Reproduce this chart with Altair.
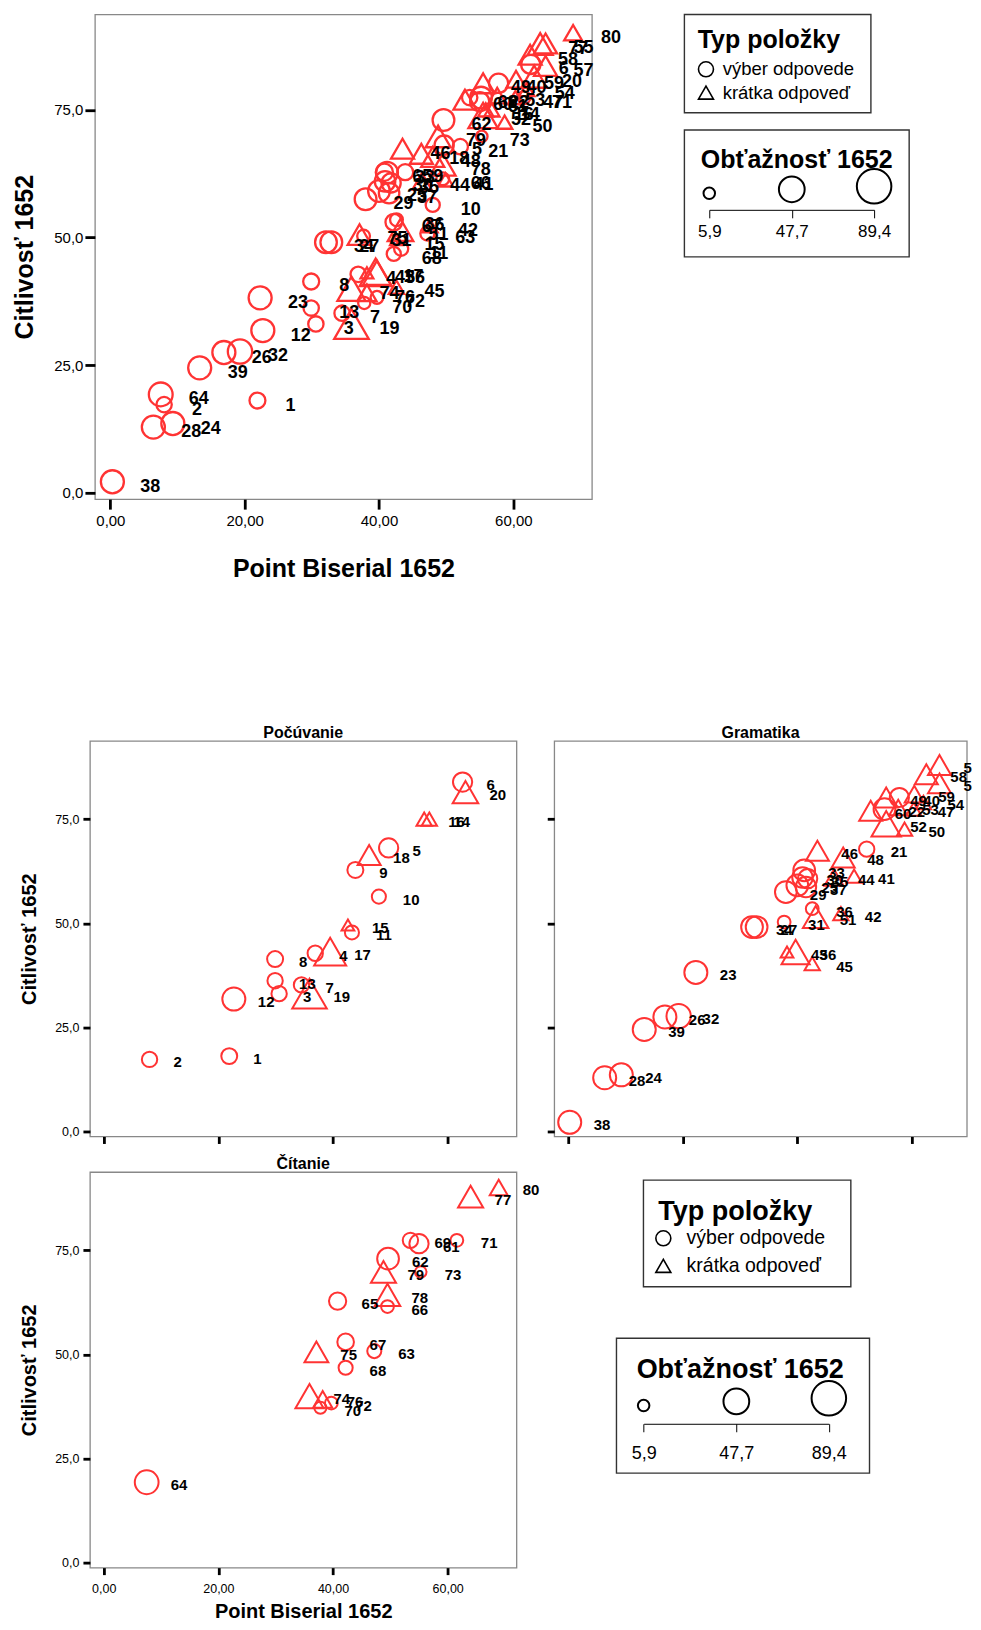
import altair as alt
import pandas as pd

# ---------------- data ----------------
ITEM = list(range(1, 81))
POINT_BISERIAL = [
    21.9, 8.0, 30.6, 36.9, 49.7, 62.6, 34.5, 29.9, 43.9, 48.0,
    43.3, 22.7, 29.9, 56.8, 42.6, 55.9, 39.5, 46.3, 35.9, 63.1,
    52.1, 55.2, 22.3, 9.3, 40.0, 16.9, 32.9, 6.4, 38.0, 40.9,
    37.7, 19.3, 41.2, 32.1, 41.8, 42.6, 41.5, 0.3, 13.3, 57.8,
    49.9, 47.6, 38.2, 46.4, 42.6, 43.5, 60.3, 48.0, 55.5, 58.7,
    43.2, 55.5, 57.6, 62.0, 64.8, 39.7, 64.8, 62.5, 60.4, 52.8,
    55.0, 49.6, 47.2, 7.5, 40.8, 49.5, 42.2, 42.2, 53.5, 37.8,
    61.6, 39.7, 55.3, 35.9, 37.1, 38.2, 64.0, 49.5, 48.8, 68.9,
]
CITLIVOST = [
    18.1, 17.3, 33.1, 42.8, 68.1, 83.9, 35.2, 41.4, 62.8, 56.4,
    47.8, 31.8, 36.2, 75.0, 49.6, 75.0, 43.2, 66.4, 33.1, 81.5,
    67.8, 77.4, 38.2, 13.6, 59.1, 27.5, 49.1, 12.9, 57.5, 61.0,
    50.3, 27.7, 62.7, 49.1, 60.7, 53.5, 58.7, 2.2, 24.5, 80.2,
    61.3, 52.3, 43.1, 61.0, 40.3, 67.4, 77.4, 65.8, 80.2, 72.6,
    51.5, 73.9, 77.8, 79.0, 88.0, 43.1, 83.6, 85.8, 81.0, 77.0,
    76.6, 73.0, 50.8, 19.3, 62.8, 61.5, 53.0, 46.8, 77.4, 37.2,
    77.4, 38.3, 69.8, 40.0, 50.6, 39.2, 87.9, 64.3, 69.8, 90.1,
]
OBTIAZNOST = [
    15.4, 14.0, 14.0, 14.0, 24.5, 24.5, 14.0, 15.6, 15.6, 11.1,
    11.1, 37.2, 14.0, 14.0, 8.3, 14.0, 76.0, 37.2, 89.4, 47.0,
    14.0, 32.7, 37.2, 37.2, 32.7, 37.2, 32.7, 37.2, 32.7, 28.4,
    8.3, 42.0, 32.7, 32.7, 24.5, 8.3, 28.4, 37.2, 37.2, 24.5,
    14.0, 14.0, 8.3, 24.5, 14.0, 37.2, 14.0, 37.2, 37.2, 14.0,
    47.0, 63.6, 20.7, 14.0, 37.2, 57.8, 37.2, 37.2, 24.5, 37.2,
    24.5, 32.7, 11.1, 40.0, 18.9, 8.3, 17.2, 11.1, 14.0, 7.1,
    8.3, 8.3, 5.9, 57.8, 40.0, 24.5, 44.9, 47.0, 44.9, 20.7,
]
TYPE_LABELS = ["výber odpovede", "krátka odpoveď"]
TYP = ([TYPE_LABELS[0]] * 13 + [TYPE_LABELS[1]] * 7 +
       [TYPE_LABELS[0]] * 20 + [TYPE_LABELS[1]] * 20 +
       [TYPE_LABELS[0]] * 13 + [TYPE_LABELS[1]] * 7)
SECTION_NAMES = ["Počúvanie", "Gramatika", "Čítanie"]
SECTION = [SECTION_NAMES[0]] * 20 + [SECTION_NAMES[1]] * 40 + [SECTION_NAMES[2]] * 20
SIZE_LEGEND_VALUES = [5.9, 47.7, 89.4]
X_TICKS = [0, 20, 40, 60]
Y_TICKS = [0, 25, 50, 75]
X_TITLE = "Point Biserial 1652"
Y_TITLE = "Citlivosť 1652"
TYP_TITLE = "Typ položky"
OBT_TITLE = "Obťažnosť 1652"

df = pd.DataFrame({"item": ITEM, "pb": POINT_BISERIAL, "cit": CITLIVOST,
                   "obt": OBTIAZNOST, "typ": TYP, "sec": SECTION})

# ---------------- styles ----------------
RED = "#ff3333"
FONT = "Liberation Sans"
SHAPES = ["circle", "triangle-up"]
COMMA1 = "replace(format(datum.value, '.1f'), '.', ',')"
COMMA2 = "replace(format(datum.value, '.2f'), '.', ',')"
FRAME = alt.ViewBackground(stroke="#888888", strokeWidth=1.3)
BOX = alt.ViewBackground(stroke="#333333", strokeWidth=1.4)
NOBOX = alt.ViewBackground(stroke="transparent", strokeWidth=0)


def spacer(w, h):
    """Invisible empty view used only to shift neighbouring panels."""
    return alt.Chart(pd.DataFrame({"s": [0]})).mark_rule(opacity=0, strokeWidth=0).encode(
        x=alt.value(w / 2), y=alt.value(0), y2=alt.value(max(h - 1, 0))
    ).properties(width=w, height=h, view=NOBOX)


def scatter(data, w, h, xdom, ydom, size_range, stroke_w, lab_fs, dx, dy,
            x_axis, y_axis, title=None, edge_x=None):
    x = alt.X("pb:Q", scale=alt.Scale(domain=xdom, nice=False, zero=False), axis=x_axis)
    y = alt.Y("cit:Q", scale=alt.Scale(domain=ydom, nice=False, zero=False), axis=y_axis)
    pts = alt.Chart(data).mark_point(filled=False, color=RED, strokeWidth=stroke_w,
                                     opacity=1).encode(
        x=x, y=y,
        shape=alt.Shape("typ:N", scale=alt.Scale(domain=TYPE_LABELS, range=SHAPES),
                        legend=None),
        size=alt.Size("obt:Q", scale=alt.Scale(domain=[5.9, 89.4], range=size_range),
                      legend=None),
    )
    text_kw = dict(align="left", baseline="middle", dx=dx, dy=dy, fontSize=lab_fs,
                   fontWeight="bold", color="black")
    layers = [pts]
    if edge_x is None:
        layers.append(alt.Chart(data).mark_text(**text_kw).encode(x=x, y=y, text="item:N"))
    else:
        # labels that run into the right page edge are cut there, as in the original
        layers.append(alt.Chart(data[data.pb < edge_x]).mark_text(**text_kw)
                      .encode(x=x, y=y, text="item:N"))
        layers.append(alt.Chart(data[data.pb >= edge_x])
                      .mark_text(limit=9, ellipsis="\u200b", **text_kw)
                      .encode(x=x, y=y, text="item:N"))
    ch = alt.layer(*layers).properties(width=w, height=h, view=FRAME)
    if title:
        ch = ch.properties(title=alt.Title(title, fontSize=16, fontWeight="bold",
                                           color="black", offset=0, frame="group"))
    return ch


def axis_full(values, expr, title, title_fs, tpad, lab_fs, lpad, tsize, ext):
    return alt.Axis(values=values, labelExpr=expr, title=title, titleFontSize=title_fs,
                    titleFontWeight="bold", titleColor="black", titlePadding=tpad,
                    labelFontSize=lab_fs, labelColor="black", labelPadding=lpad,
                    tickSize=tsize, tickWidth=2.8, tickColor="black", domain=False,
                    grid=False, minExtent=ext, maxExtent=ext, labelFlush=False)


def axis_ticks(values, tsize):
    return alt.Axis(values=values, labels=False, title=None, tickSize=tsize, tickWidth=2.8,
                    tickColor="black", domain=False, grid=False, minExtent=0,
                    maxExtent=0)


def typ_legend(w, h, tx, tbase, tfs, sx, lx, y0, y1, lfs, ssize):
    d = pd.DataFrame({"label": TYPE_LABELS})
    ysc = alt.Scale(type="point", domain=TYPE_LABELS, range=[y0, y1], padding=0)
    ttl = alt.Chart(pd.DataFrame({"t": [TYP_TITLE]})).mark_text(
        align="left", baseline="alphabetic", fontSize=tfs, fontWeight="bold",
        color="black").encode(x=alt.value(tx), y=alt.value(tbase), text="t:N")
    sym = alt.Chart(d).mark_point(filled=False, color="black", strokeWidth=1.6,
                                  size=ssize, opacity=1).encode(
        x=alt.value(sx), y=alt.Y("label:N", scale=ysc, axis=None),
        shape=alt.Shape("label:N", scale=alt.Scale(domain=TYPE_LABELS, range=SHAPES),
                        legend=None))
    txt = alt.Chart(d).mark_text(align="left", baseline="middle", fontSize=lfs,
                                 color="black").encode(
        x=alt.value(lx), y=alt.Y("label:N", scale=ysc, axis=None), text="label:N")
    return alt.layer(ttl, sym, txt).properties(width=w, height=h, view=BOX)


def obt_legend(w, h, tx, tbase, tfs, xr, sym_bottom, axis_y, lpad, lfs, srange):
    d = pd.DataFrame({"v": SIZE_LEGEND_VALUES})
    smin, smax = srange
    ttl = alt.Chart(pd.DataFrame({"t": [OBT_TITLE]})).mark_text(
        align="center", baseline="alphabetic", fontSize=tfs, fontWeight="bold",
        color="black").encode(x=alt.value(tx), y=alt.value(tbase), text="t:N")
    sym = alt.Chart(d).transform_calculate(
        yc=f"{sym_bottom} - sqrt({smin} + (datum.v - 5.9) / 83.5 * {smax - smin}) / 2"
    ).mark_point(filled=False, color="black", strokeWidth=2, opacity=1).encode(
        x=alt.X("v:Q", scale=alt.Scale(domain=[5.9, 89.4], range=list(xr), zero=False,
                                       nice=False),
                axis=alt.Axis(values=SIZE_LEGEND_VALUES, labelExpr=COMMA1, title=None,
                              grid=False, domain=True, domainColor="black",
                              domainWidth=1, tickColor="black", tickWidth=1,
                              tickSize=8, labelFontSize=lfs, labelColor="black",
                              labelPadding=lpad, offset=axis_y - h, labelFlush=False,
                              labelOverlap=False, minExtent=0)),
        y=alt.Y("yc:Q", scale=alt.Scale(domain=[0, h], range=[0, h]), axis=None),
        size=alt.Size("v:Q", scale=alt.Scale(domain=[5.9, 89.4], range=list(srange),
                                             zero=False),
                      legend=None),
    )
    return alt.layer(ttl, sym).properties(width=w, height=h, view=BOX)


# ---------------- top chart ----------------
main = scatter(
    df, 497.5, 485.3, [-2.3, 71.7], [-1.2, 93.7], [133, 1195], 2.3, 18, 28, 5,
    axis_full(X_TICKS, COMMA2, X_TITLE, 25, 28.5, 15, 4, 10, 29),
    axis_full(Y_TICKS, COMMA1, Y_TITLE, 25, 15.85, 15, 2, 10, 42),
)
typ_top = typ_legend(186.7, 98.4, 13.4, 34, 25, 21.7, 38.4, 55, 78.4, 18.5, 225)
obt_top = obt_legend(225, 127, 112.5, 37.7, 25, (25, 190), 71, 80, 5.7, 17, (225, 841))
row1 = alt.hconcat(
    alt.hconcat(spacer(3, 1), main, spacing=0.01),
    alt.vconcat(typ_top, obt_top, spacing=14.7),
    spacing=61,
)

# ---------------- bottom panels ----------------
BX = [-2.4, 72.0]
BY = [-1.2, 93.8]
BSIZE = [81, 729]
GRAM_W = 413
BX_GRAM = [-2.4, -2.4 + (72.0 + 2.4) * GRAM_W / 427]
poc = scatter(
    df[df.sec == SECTION_NAMES[0]], 427, 396, BX, BY, BSIZE, 2, 15, 24, 3,
    axis_ticks(X_TICKS, 7),
    axis_full(Y_TICKS, COMMA1, Y_TITLE, 20, 14, 12.5, 4, 7, 36),
    title=SECTION_NAMES[0],
)
gram = scatter(
    df[df.sec == SECTION_NAMES[1]], GRAM_W, 396, BX_GRAM, BY, BSIZE, 2, 15, 24, 3,
    axis_ticks(X_TICKS, 7), axis_ticks(Y_TICKS, 7), title=SECTION_NAMES[1],
    edge_x=64,
)
cit = scatter(
    df[df.sec == SECTION_NAMES[2]], 427, 396, BX, BY, BSIZE, 2, 15, 24, 3,
    axis_full(X_TICKS, COMMA2, X_TITLE, 20, 6, 12.5, 8, 7, 28),
    axis_full(Y_TICKS, COMMA1, Y_TITLE, 20, 14, 12.5, 4, 7, 36),
    title=SECTION_NAMES[2],
)
typ_bot = typ_legend(207.6, 106.7, 15, 40, 27, 20, 43.3, 58.3, 86, 19.5, 225)
obt_bot = obt_legend(253.3, 135, 124, 40, 27, (27.3, 212.7), 75, 85.7, 13, 18, (225, 870))

leg_bot = alt.vconcat(
    spacer(2, 7),
    alt.vconcat(alt.hconcat(spacer(26, 1), typ_bot, spacing=0.01), obt_bot,
                spacing=49.3),
    spacing=0,
)
row2 = alt.hconcat(alt.hconcat(spacer(11, 1), poc, spacing=0.01), gram, spacing=26.8)
row3 = alt.hconcat(alt.hconcat(spacer(11, 1), cit, spacing=0.01), leg_bot, spacing=75)
bottom = alt.vconcat(row2, row3, spacing=8.6)

chart = alt.vconcat(row1, bottom, spacing=141.3).properties(
    padding={"left": 0, "top": 4.5, "right": 0, "bottom": 0}
).configure(font=FONT).configure_view(stroke="transparent")

chart.save("out.html", embed_options={"renderer": "svg", "actions": False})
